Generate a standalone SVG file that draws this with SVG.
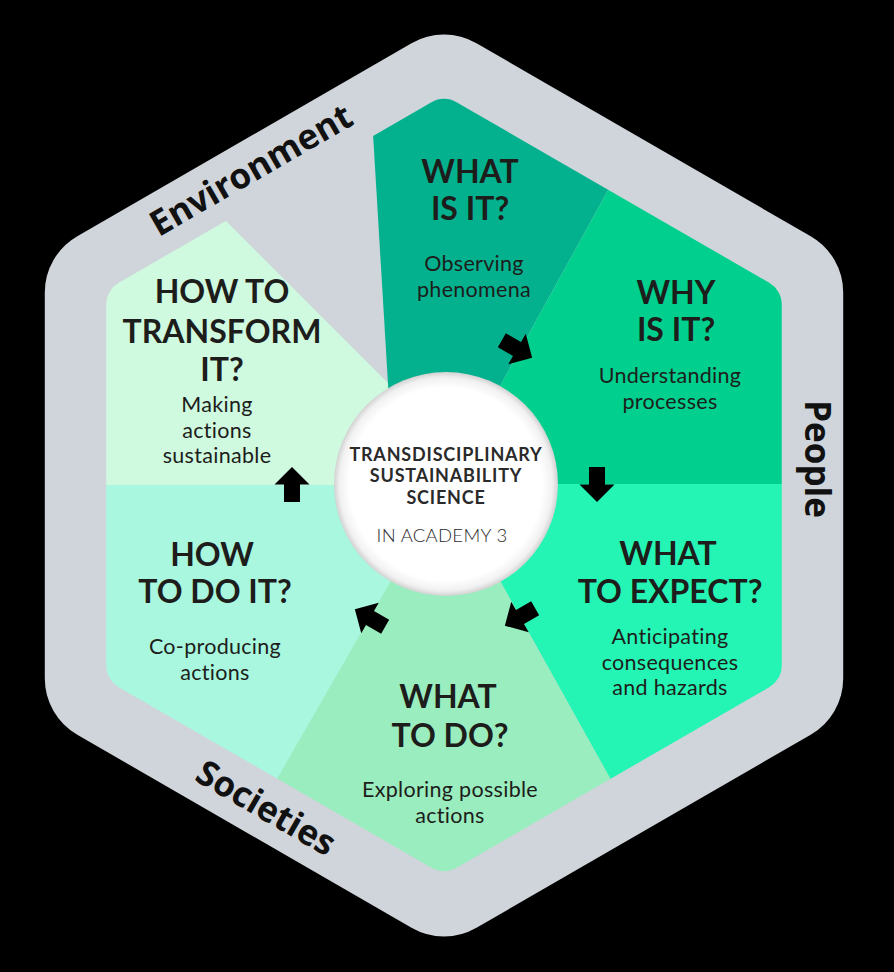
<svg xmlns="http://www.w3.org/2000/svg" width="894" height="972" viewBox="0 0 894 972">
<style>
.t{font-family:Lato,"Open Sans",sans-serif;font-weight:700;font-size:32px;fill:#1d1d1b;text-anchor:middle}
.s{font-family:Lato,"Open Sans",sans-serif;font-weight:400;font-size:21.5px;letter-spacing:0.3px;fill:#1d1d1b;text-anchor:middle}
.side{font-family:"Open Sans",Lato,sans-serif;font-weight:700;font-size:35px;fill:#111;text-anchor:middle}
.c1{font-family:Lato,"Open Sans",sans-serif;font-weight:700;font-size:18px;letter-spacing:0.8px;fill:#2a2a2a;text-anchor:middle}
.c2{font-family:Lato,"Open Sans",sans-serif;font-weight:300;font-size:18.5px;letter-spacing:0.3px;fill:#2a2a2a;text-anchor:middle}
.arrow{fill:#000}
</style>
<defs>
<clipPath id="inner">
<path d="M456.5,102.22 L769.25,282.78 A25 25 0 0 1 781.75,304.43 L781.75,665.57 A25 25 0 0 1 769.25,687.22 L456.5,867.78 A25 25 0 0 1 431.5,867.78 L118.75,687.22 A25 25 0 0 1 106.25,665.57 L106.25,304.43 A25 25 0 0 1 118.75,282.78 L431.5,102.22 A25 25 0 0 1 456.5,102.22 Z"/>
</clipPath>
<radialGradient id="disc" cx="0.5" cy="0.5" r="0.5">
<stop offset="0.86" stop-color="#ffffff"/>
<stop offset="0.95" stop-color="#f1f1f1"/>
<stop offset="1" stop-color="#d2d2d2"/>
</radialGradient>
<path id="arr" d="M-17.5,-8 L0,-8 L0,-17.5 L17.5,0 L0,17.5 L0,8 L-17.5,8 Z"/>
</defs>
<rect width="894" height="972" fill="#000"/>
<g id="frame">
<path d="M476.5,43.25 L810.7,236.25 A65 65 0 0 1 843.2,292.5 L843.2,678.5 A65 65 0 0 1 810.7,734.75 L476.5,927.75 A65 65 0 0 1 411.5,927.75 L77.3,734.75 A65 65 0 0 1 44.8,678.5 L44.8,292.5 A65 65 0 0 1 77.3,236.25 L411.5,43.25 A65 65 0 0 1 476.5,43.25 Z" fill="#cfd5da"/>
<text class="side" transform="translate(251,170) rotate(-30)" y="12">Environment</text>
<text class="side" transform="translate(805,459) rotate(90)" y="0">People</text>
<text class="side" transform="translate(266,808) rotate(30)" y="12">Societies</text>
</g>
<g id="how-to-transform">
<polygon points="5,0 490,485 0,485 0,0" fill="#cffadf" clip-path="url(#inner)"/>
<text class="t" x="222" y="303">HOW TO</text>
<text class="t" x="222" y="343">TRANSFORM</text>
<text class="t" x="222" y="381">IT?</text>
<text class="s" x="217" y="412">Making</text>
<text class="s" x="217" y="437.5">actions</text>
<text class="s" x="217" y="463">sustainable</text>
</g>
<g id="what-is-it">
<polygon points="365,0 713,0 446,484 394,484" fill="#03b18e" clip-path="url(#inner)"/>
<text class="t" x="470" y="183">WHAT</text>
<text class="t" x="470" y="220">IS IT?</text>
<text class="s" x="474" y="271">Observing</text>
<text class="s" x="474" y="296.5">phenomena</text>
</g>
<g id="why-is-it">
<polygon points="446,484 713,0 894,0 894,484" fill="#00cf8e" clip-path="url(#inner)"/>
<text class="t" x="676" y="304">WHY</text>
<text class="t" x="676" y="341">IS IT?</text>
<text class="s" x="670" y="383">Understanding</text>
<text class="s" x="670" y="408.5">processes</text>
</g>
<g id="what-to-expect">
<polygon points="446,484 894,484 894,972 718,972" fill="#25f5b4" clip-path="url(#inner)"/>
<text class="t" x="668" y="565">WHAT</text>
<text class="t" x="670" y="603">TO EXPECT?</text>
<text class="s" x="670" y="644">Anticipating</text>
<text class="s" x="670" y="669.5">consequences</text>
<text class="s" x="670" y="695">and hazards</text>
</g>
<g id="what-to-do">
<polygon points="446,484 718,972 166,972" fill="#9aedbe" clip-path="url(#inner)"/>
<text class="t" x="448" y="708">WHAT</text>
<text class="t" x="450" y="747">TO DO?</text>
<text class="s" x="450" y="797">Exploring possible</text>
<text class="s" x="450" y="822.5">actions</text>
</g>
<g id="how-to-do-it">
<polygon points="446,485 166,972 0,972 0,485" fill="#a8f7de" clip-path="url(#inner)"/>
<text class="t" x="212" y="566">HOW</text>
<text class="t" x="215" y="603">TO DO IT?</text>
<text class="s" x="215" y="654">Co-producing</text>
<text class="s" x="215" y="679.5">actions</text>
</g>
<g id="center">
<circle cx="446" cy="484" r="112" fill="url(#disc)"/>
<text class="c1" x="446" y="461">TRANSDISCIPLINARY</text>
<text class="c1" x="446" y="482">SUSTAINABILITY</text>
<text class="c1" x="446" y="504">SCIENCE</text>
<text class="c2" x="442" y="542">IN ACADEMY 3</text>
</g>
<g id="connectors">
<use href="#arr" class="arrow" transform="translate(517,349) rotate(30)"/>
<use href="#arr" class="arrow" transform="translate(597,484.5) rotate(90)"/>
<use href="#arr" class="arrow" transform="translate(520,617) rotate(150)"/>
<use href="#arr" class="arrow" transform="translate(370,618) rotate(210)"/>
<use href="#arr" class="arrow" transform="translate(292,484.5) rotate(270)"/>
</g>
</svg>
